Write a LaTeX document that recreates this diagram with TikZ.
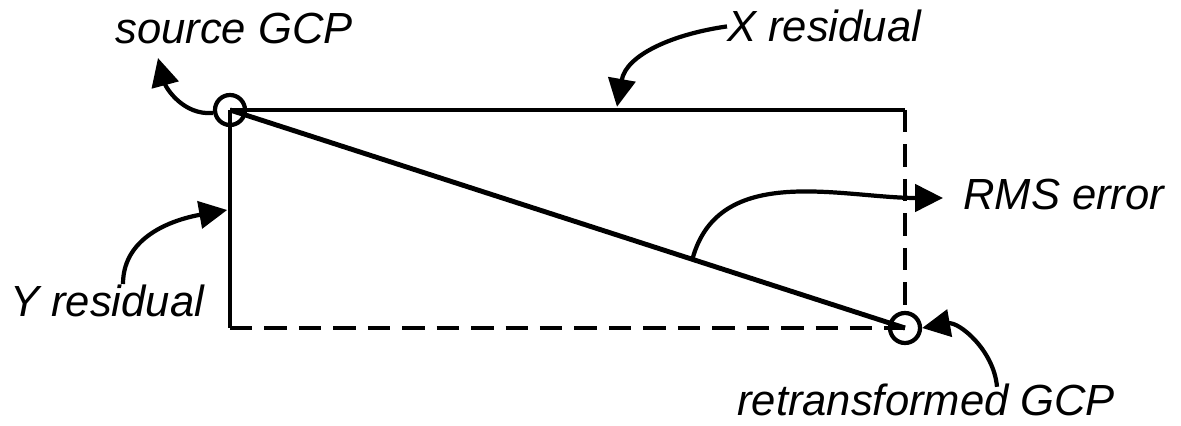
\documentclass[tikz,border=0pt]{standalone}
\usepackage{fontspec}
\setmainfont{Liberation Sans}
\usetikzlibrary{arrows.meta,calc}

\begin{document}
\begin{tikzpicture}[>={Triangle[length=0.7cm,width=0.68cm]},
  lbl/.style={inner sep=0pt, anchor=base west, font=\itshape\fontsize{31}{37}\selectfont},
  gcp/.style={draw, circle, line width=3pt, minimum size=0.75cm, inner sep=0pt},
  res/.style={line width=3.5pt},
  guess/.style={line width=3.2pt, dash pattern=on 16pt off 8.5pt},
  ptr/.style={->, line width=3pt}]
  \useasboundingbox (0,0) rectangle (29.525,10.65);
  % corners of the residual box
  \coordinate (TR) at (22.625,7.9);
  \coordinate (BL) at (5.75,2.45);
  \node[gcp] (src) at (5.75,7.9) {};
  \node[gcp] (ret) at (22.625,2.45) {};
  \draw[res] (src.center) -- (TR);
  \draw[res] (src.center) -- (BL);
  \draw[res] (src.center) -- (ret.center);
  \draw[guess] (BL) -- (ret.center);
  \draw[guess] (TR) -- (ret.north);
  % labels
  \node[lbl] (srclab) at (2.875,9.55) {source GCP};
  \node[lbl] (xlab) at (18.175,9.6) {X residual};
  \node[lbl] (rmslab) at (24.075,5.4) {RMS error};
  \node[lbl] (ylab) at (0.25,2.725) {Y residual};
  \node[lbl] (retlab) at (18.425,0.25) {retransformed GCP};
  % pointers
  \coordinate (srctip) at (3.95,9.2);
  \coordinate (xtip) at (15.425,7.98);
  \coordinate (rmsfoot) at ($(src.center)!0.685!(ret.center)$);
  \coordinate (rmstip) at (23.575,5.7);
  \coordinate (yfoot) at (3.075,3.55);
  \coordinate (ytip) at (5.68,5.4);
  \coordinate (retfoot) at (24.925,0.98);
  \draw[ptr] (src.190) to[out=185, in=-75] (srctip);
  \draw[ptr] (xlab.west) to[out=188, in=80] (xtip);
  \draw[ptr] (rmsfoot) to[out=75, in=180] (rmstip);
  \draw[ptr] (yfoot) to[out=90, in=190] (ytip);
  \draw[ptr] (retfoot) to[out=95, in=10] (ret.east);
\end{tikzpicture}
\end{document}
